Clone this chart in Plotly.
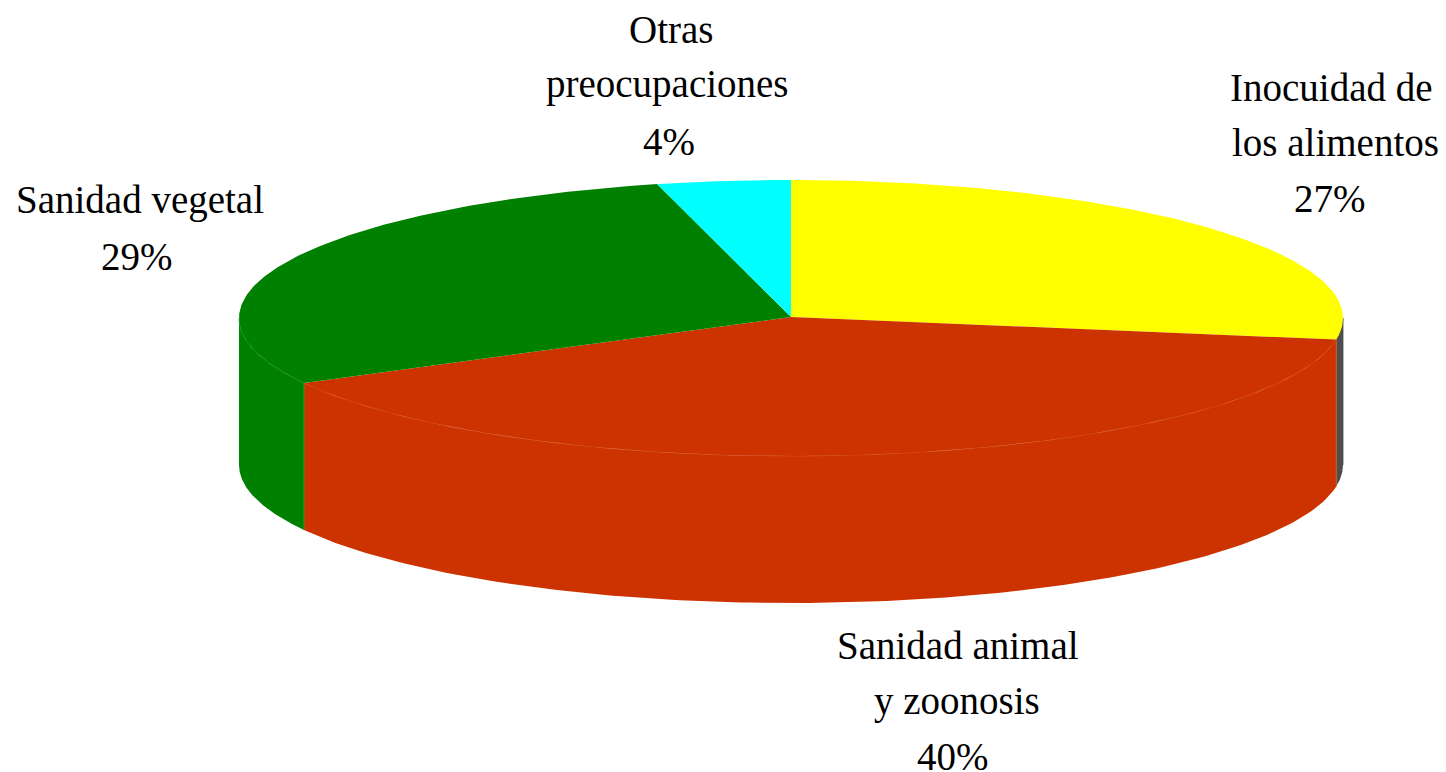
import numpy as np
import plotly.graph_objects as go

categories = ["Inocuidad de los alimentos", "Sanidad animal y zoonosis", "Sanidad vegetal", "Otras preocupaciones"]
values = [27.5, 39.7, 28.9, 3.9]
top_colors = ["#ffff00", "#cc3300", "#008000", "#00ffff"]
wall_colors = ["#4d4d4d", "#cc3300", "#008000", "#00ffff"]
seam_colors = ["#4d4d4d", "#da5a30", "#3a9a3a", "#00ffff"]

label_lines = [
    [("Inocuidad de", 1331, 87), ("los alimentos", 1335, 142), ("27%", 1330, 198)],
    [("Sanidad animal", 958, 645), ("y zoonosis", 957, 701), ("40%", 953, 756)],
    [("Sanidad vegetal", 140, 200), ("29%", 137, 256)],
    [("Otras", 671, 29), ("preocupaciones", 667, 84), ("4%", 669, 141)],
]

W, H = 1446, 772
CX, CY, RX, RY, DEPTH = 791, 318, 552, 138, 147


def rim(a0, a1, n=160):
    t = np.radians(np.linspace(a0, a1, n))
    return CX + RX * np.sin(t), CY - RY * np.cos(t)


fig = go.Figure()
bounds = np.concatenate([[0], np.cumsum(values)]) * 360.0 / sum(values)

# side walls (only the front half of the disc is visible)
for i in range(len(values)):
    a0, a1 = max(bounds[i], 90), min(bounds[i + 1], 270)
    if a1 <= a0:
        continue
    x, y = rim(a0, a1)
    fig.add_trace(go.Scatter(
        x=np.concatenate([x, x[::-1]]), y=np.concatenate([y, (y + DEPTH)[::-1]]),
        mode="lines", fill="toself", fillcolor=wall_colors[i], line=dict(width=0),
        hoverinfo="skip", showlegend=False))

# wall seams
for i in range(len(values)):
    a0, a1 = max(bounds[i], 90), min(bounds[i + 1], 270)
    if a1 <= a0:
        continue
    x, y = rim(a0, a1)
    fig.add_trace(go.Scatter(x=x, y=y, mode="lines", line=dict(color=seam_colors[i], width=0.8),
                             hoverinfo="skip", showlegend=False))
    fig.add_trace(go.Scatter(x=[x[0], x[0]], y=[y[0], y[0] + DEPTH], mode="lines",
                             line=dict(color=seam_colors[i], width=0.8),
                             hoverinfo="skip", showlegend=False))

# top face
for i, cat in enumerate(categories):
    x, y = rim(bounds[i], bounds[i + 1])
    fig.add_trace(go.Scatter(
        x=np.concatenate([[CX], x, [CX]]), y=np.concatenate([[CY - 1], y, [CY - 1]]),
        mode="lines", fill="toself", fillcolor=top_colors[i], line=dict(width=0),
        name=cat, showlegend=False))

for lines in label_lines:
    for text, lx, ly in lines:
        fig.add_annotation(x=lx, y=ly, text=text, showarrow=False, xanchor="center", yanchor="middle",
                           font=dict(family="Liberation Serif", size=39, color="#000000"))

fig.update_layout(
    width=W, height=H, margin=dict(l=0, r=0, t=0, b=0), paper_bgcolor="#ffffff", plot_bgcolor="#ffffff",
    xaxis=dict(range=[0, W], visible=False, fixedrange=True),
    yaxis=dict(range=[H, 0], visible=False, fixedrange=True),
)
fig.write_html("out.html", config=dict(displayModeBar=False),
               post_script="document.body.style.margin='0';document.documentElement.style.overflow='hidden';")
